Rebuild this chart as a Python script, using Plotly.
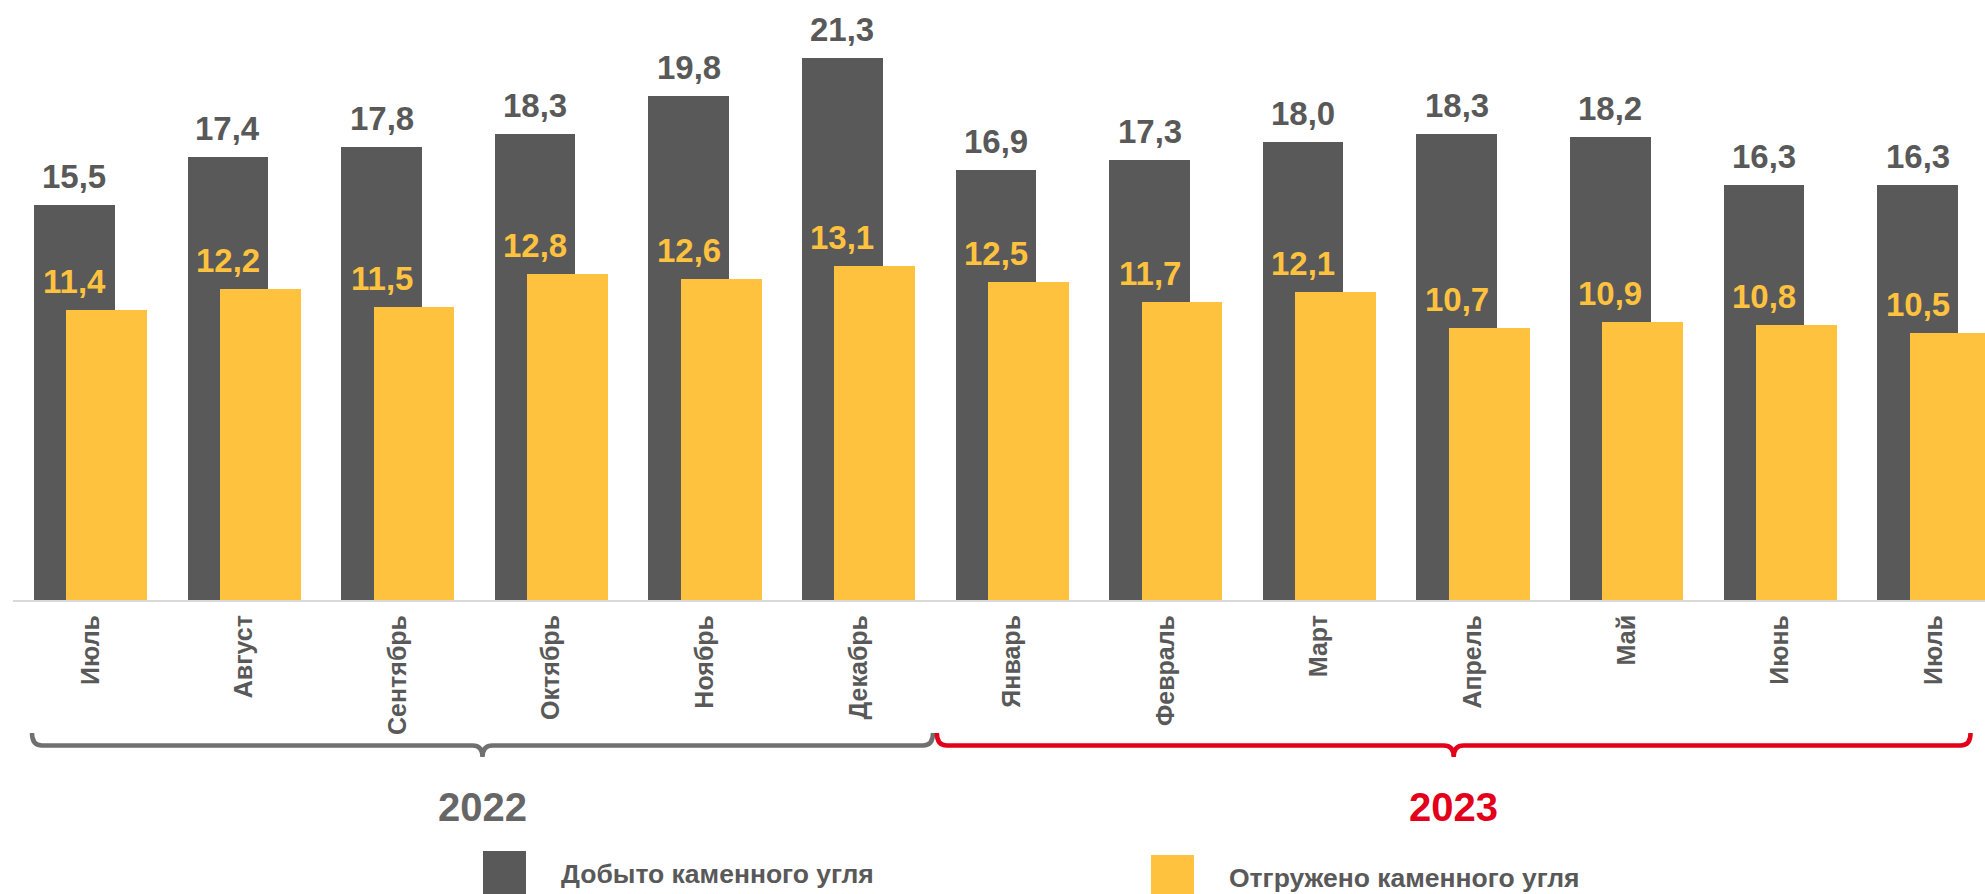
import plotly.graph_objects as go

months = ["Июль", "Август", "Сентябрь", "Октябрь", "Ноябрь", "Декабрь",
          "Январь", "Февраль", "Март", "Апрель", "Май", "Июнь", "Июль"]
mined = [15.5, 17.4, 17.8, 18.3, 19.8, 21.3, 16.9, 17.3, 18.0, 18.3, 18.2, 16.3, 16.3]
shipped = [11.4, 12.2, 11.5, 12.8, 12.6, 13.1, 12.5, 11.7, 12.1, 10.7, 10.9, 10.8, 10.5]
years = ["2022", "2023"]
year_spans = [(0, 5), (6, 12)]
series_names = ["Добыто каменного угля", "Отгружено каменного угля"]

DARK = "#595959"
YELLOW = "#FFC23F"
GRAY_BRACE = "#707070"
RED = "#E2001A"
FONT = "Liberation Sans"

# layout in pixels
W_PX, H_PX = 1985, 894
L, R, T, B = 13, 0, 0, 294
PW, PH = W_PX - L - R, H_PX - T - B
UNIT = 153.6            # px per category
X0 = -(90.5 - L) / UNIT
X1 = X0 + PW / UNIT
YMAX = PH / 25.46

BW = 0.526
dark_c = -0.1055
yel_c = 0.106

def py(p):  # pixel y -> paper y
    return (H_PX - B - p) / PH

def px(p):  # pixel x -> paper x
    return (p - L) / PW

xs = list(range(len(months)))

fig = go.Figure()
fig.add_trace(go.Bar(x=xs, y=mined, width=BW, offset=dark_c - BW / 2,
                     marker=dict(color=DARK, line=dict(width=0)), name=series_names[0],
                     showlegend=False, hoverinfo="skip"))
fig.add_trace(go.Bar(x=xs, y=shipped, width=BW, offset=yel_c - BW / 2,
                     marker=dict(color=YELLOW, line=dict(width=0)), name=series_names[1],
                     showlegend=False, hoverinfo="skip"))

annotations = []
for i, v in enumerate(mined):
    annotations.append(dict(x=i + dark_c, y=v, xref="x", yref="y", yanchor="bottom",
                            text=f"{v:.1f}".replace(".", ","), showarrow=False, yshift=8,
                            font=dict(family=FONT, size=33, color=DARK, weight="bold")))
for i, v in enumerate(shipped):
    annotations.append(dict(x=i + dark_c, y=v, xref="x", yref="y", yanchor="bottom",
                            text=f"{v:.1f}".replace(".", ","), showarrow=False, yshift=8,
                            font=dict(family=FONT, size=33, color=YELLOW, weight="bold")))

shapes = []
brace_colors = [GRAY_BRACE, RED]
year_colors = ["#666666", RED]
y_top, y_line, y_tip = py(733), py(745.5), py(757)
d = 10 / UNIT
for (a, b), col, yr, ycol in zip(year_spans, brace_colors, years, year_colors):
    x0 = a - 0.381 if a == 0 else a - 0.49
    x1 = b + 0.485 if b == 5 else b + 0.24
    xm = (x0 + x1) / 2
    path = (f"M {x0},{y_top} Q {x0},{y_line} {x0 + d},{y_line} "
            f"L {xm - d},{y_line} Q {xm},{y_line} {xm},{y_tip} "
            f"Q {xm},{y_line} {xm + d},{y_line} "
            f"L {x1 - d},{y_line} Q {x1},{y_line} {x1},{y_top}")
    shapes.append(dict(type="path", path=path, xref="x", yref="paper",
                       line=dict(color=col, width=4.5)))
    annotations.append(dict(x=xm, y=py(807), xref="x", yref="paper", text=yr,
                            showarrow=False, xanchor="center", yanchor="middle",
                            font=dict(family=FONT, size=40, color=ycol, weight="bold")))

# legend
legend_items = [(483, 526, 851, DARK, 559, 874), (1151, 1194, 855, YELLOW, 1227, 878)]
for (sx0, sx1, sy0, col, tx, ty), name in zip(legend_items, series_names):
    shapes.append(dict(type="rect", xref="paper", yref="paper", x0=px(sx0), x1=px(sx1),
                       y0=py(H_PX + 5), y1=py(sy0), fillcolor=col, line=dict(width=0)))
    annotations.append(dict(x=px(tx), y=py(ty), xref="paper", yref="paper", text=name,
                            showarrow=False, xanchor="left", yanchor="middle",
                            font=dict(family=FONT, size=26.5, color=DARK, weight="bold")))

fig.update_layout(
    width=W_PX, height=H_PX,
    margin=dict(l=L, r=R, t=T, b=B, pad=0),
    paper_bgcolor="white", plot_bgcolor="white",
    barmode="overlay", bargap=0,
    annotations=annotations, shapes=shapes,
    xaxis=dict(range=[X0, X1], tickvals=xs, ticktext=months, tickangle=-90,
               showgrid=False, zeroline=False, showline=True, linecolor="#D9D9D9",
               linewidth=2, ticks="", ticklabelstandoff=3,
               tickfont=dict(family=FONT, size=25, color=DARK, weight="bold")),
    yaxis=dict(range=[0, YMAX], visible=False, showgrid=False, zeroline=False),
)

fig.write_html("out.html", config={"displayModeBar": False},
               post_script="document.body.style.margin='0';document.body.style.overflow='hidden';")
